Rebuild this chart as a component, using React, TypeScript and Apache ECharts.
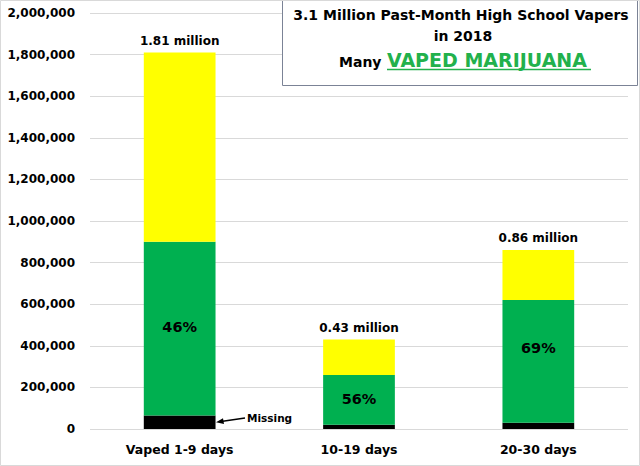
import React, { useEffect, useRef } from "react";
import * as echarts from "echarts";

const categories = ["Vaped 1-9 days", "10-19 days", "20-30 days"];
const missing = [65000, 20000, 30000];
const marijuana = [835000, 240000, 590000];
const other = [910000, 170000, 240000];
const totalLabels = ["1.81 million", "0.43 million", "0.86 million"];
const pctLabels = ["46%", "56%", "69%"];
const yTicks = [0, 200000, 400000, 600000, 800000, 1000000, 1200000, 1400000, 1600000, 1800000, 2000000];

const FONT = "'DejaVu Sans', Verdana, sans-serif";
const pctOffsets = [[0, -2], [0, -1], [0, -13]];

export default function App() {
  const ref = useRef<HTMLDivElement>(null);
  useEffect(() => {
    if (!ref.current) return;
    const chart = echarts.init(ref.current, undefined, { renderer: "svg" });
    chart.setOption({
      animation: false,
      backgroundColor: "#ffffff",
      textStyle: { fontFamily: FONT },
      grid: { left: 90, right: 12, top: 13, bottom: 37, containLabel: false },
      xAxis: {
        type: "category",
        data: categories,
        axisLine: { show: false },
        axisTick: { show: false },
        axisLabel: { color: "#000", fontWeight: "bold", fontSize: 12.5, fontFamily: FONT, margin: 14 },
      },
      yAxis: {
        type: "value",
        min: yTicks[0],
        max: yTicks[yTicks.length - 1],
        interval: yTicks[1] - yTicks[0],
        axisLine: { show: false },
        axisTick: { show: false },
        splitLine: { lineStyle: { color: "#d9d9d9", width: 1 } },
        axisLabel: {
          color: "#000",
          fontWeight: "bold",
          fontSize: 12,
          fontFamily: FONT,
          margin: 15,
          formatter: (v: number) => v.toLocaleString("en-US"),
        },
      },
      series: [
        {
          type: "bar",
          stack: "all",
          data: missing,
          barWidth: "40%",
          itemStyle: { color: "#000000" },
        },
        {
          type: "bar",
          stack: "all",
          data: marijuana.map((v, i) => ({ value: v, label: { offset: pctOffsets[i] } })),
          itemStyle: { color: "#00B050" },
          label: {
            show: true,
            position: "inside",
            color: "#000",
            fontWeight: "bold",
            fontSize: 14.5,
            fontFamily: FONT,
            formatter: (p: any) => pctLabels[p.dataIndex],
          },
        },
        {
          type: "bar",
          stack: "all",
          data: other,
          itemStyle: { color: "#FFFF00" },
          label: {
            show: true,
            position: "top",
            distance: 6,
            color: "#000",
            fontWeight: "bold",
            fontSize: 12,
            fontFamily: FONT,
            formatter: (p: any) => totalLabels[p.dataIndex],
          },
        },
      ],
      graphic: [
        {
          type: "rect",
          z: 100,
          shape: { x: 282.5, y: 0.5, width: 355, height: 85 },
          style: { fill: "#ffffff", stroke: "#7b8396", lineWidth: 1 },
        },
        {
          type: "text",
          z: 101,
          x: 461,
          y: 15,
          style: {
            text: "3.1 Million Past-Month High School Vapers",
            fill: "#000",
            font: "bold 14px " + FONT,
            align: "center",
            verticalAlign: "middle",
          },
        },
        {
          type: "text",
          z: 101,
          x: 463,
          y: 36,
          style: {
            text: "in 2018",
            fill: "#000",
            font: "bold 14px " + FONT,
            align: "center",
            verticalAlign: "middle",
          },
        },
        {
          type: "text",
          z: 101,
          x: 339,
          y: 62,
          style: {
            text: "Many",
            fill: "#000",
            font: "bold 14px " + FONT,
            align: "left",
            verticalAlign: "middle",
          },
        },
        {
          type: "text",
          z: 101,
          x: 387,
          y: 60,
          style: {
            text: "VAPED MARIJUANA",
            fill: "#22B14C",
            font: "bold 19px " + FONT,
            align: "left",
            verticalAlign: "middle",
          },
        },
        {
          type: "line",
          z: 101,
          shape: { x1: 387, y1: 69.5, x2: 591, y2: 69.5 },
          style: { stroke: "#22B14C", lineWidth: 1.5 },
        },
        {
          type: "line",
          z: 101,
          shape: { x1: 245, y1: 418, x2: 221, y2: 421.5 },
          style: { stroke: "#000", lineWidth: 1.5 },
        },
        {
          type: "polygon",
          z: 101,
          shape: { points: [[216, 422.3], [223, 418.3], [224, 424]] },
          style: { fill: "#000" },
        },
        {
          type: "text",
          z: 101,
          x: 247,
          y: 418,
          style: {
            text: "Missing",
            fill: "#000",
            font: "bold 10.5px " + FONT,
            align: "left",
            verticalAlign: "middle",
          },
        },
        {
          type: "rect",
          z: 102,
          silent: true,
          shape: { x: 0.5, y: 0.5, width: 639, height: 465 },
          style: { fill: "none", stroke: "#d9d9d9", lineWidth: 1 },
        },
      ],
    });
    return () => chart.dispose();
  }, []);
  return (
    <div
      ref={ref}
      style={{ position: "fixed", left: 0, top: 0, width: 640, height: 466 }}
    />
  );
}
